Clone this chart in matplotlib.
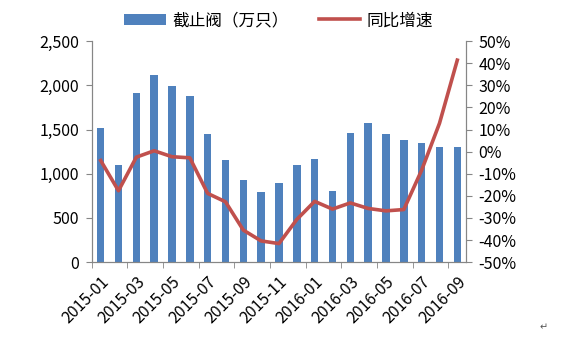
import matplotlib.pyplot as plt
from matplotlib.ticker import FuncFormatter, MultipleLocator, FixedLocator

plt.rcParams['font.family'] = ['Noto Sans CJK SC', 'DejaVu Sans']

months = ['2015-01', '2015-02', '2015-03', '2015-04', '2015-05', '2015-06', '2015-07',
          '2015-08', '2015-09', '2015-10', '2015-11', '2015-12', '2016-01', '2016-02',
          '2016-03', '2016-04', '2016-05', '2016-06', '2016-07', '2016-08', '2016-09']
output = [1515, 1095, 1915, 2120, 1995, 1875, 1455, 1160, 930, 790, 900,
          1095, 1170, 810, 1465, 1570, 1450, 1385, 1350, 1305, 1305]
growth = [-4.0, -17.7, -2.5, 0.4, -2.3, -2.8, -18.9, -22.7, -35.5, -40.4, -41.6,
          -30.7, -22.5, -26.0, -23.2, -25.7, -26.8, -26.2, -8.4, 12.8, 41.4]

bar_color = '#4F81BD'
line_color = '#C0504D'
axis_grey = '#868686'

fig = plt.figure(figsize=(5.77, 3.4), dpi=100)
ax = fig.add_axes([0.159, 0.229, 0.649, 0.650])
ax2 = ax.twinx()

x = list(range(len(months)))
bars = ax.bar(x, output, width=0.42, color=bar_color, label='截止阀（万只）', zorder=2)
line, = ax2.plot(x, growth, color=line_color, lw=2.6, label='同比增速', zorder=3)

ax.set_xlim(-0.5, len(months) - 0.5)
ax.set_ylim(0, 2500)
ax2.set_ylim(-50, 50)

ax.yaxis.set_major_locator(MultipleLocator(500))
ax.yaxis.set_major_formatter(FuncFormatter(lambda v, p: f'{int(v):,}'))
ax2.yaxis.set_major_locator(MultipleLocator(10))
ax2.yaxis.set_major_formatter(FuncFormatter(lambda v, p: f'{int(round(v))}%'))

# labels on every other month, tick marks on the boundaries between pairs
ax.xaxis.set_major_locator(FixedLocator(x[::2]))
ax.set_xticklabels(months[::2], rotation=45, ha='right', rotation_mode='anchor')
ax.xaxis.set_minor_locator(FixedLocator([i - 0.5 for i in range(0, len(months) + 1, 2)]))
ax.tick_params(axis='x', which='major', length=0, pad=8, labelsize=11.5)
ax.tick_params(axis='x', which='minor', length=4, color=axis_grey)
ax.tick_params(axis='y', length=4, color=axis_grey, labelsize=11.5, pad=5)
ax2.tick_params(axis='y', length=4, color=axis_grey, labelsize=11.5, pad=5)

for a in (ax, ax2):
    a.spines['top'].set_visible(False)
    for s in ('left', 'right', 'bottom'):
        a.spines[s].set_color(axis_grey)
ax2.set_zorder(ax.get_zorder() + 1)
ax2.patch.set_visible(False)

fig.legend([bars, line], ['截止阀（万只）', '同比增速'], loc='upper center',
           bbox_to_anchor=(0.483, 1.008), ncol=2, frameon=False, fontsize=12,
           handlelength=2.5, columnspacing=1.8, handletextpad=0.4)

# paragraph mark after the chart
fig.text(0.935, 0.03, '↵', fontsize=7, color='#555555', family=['DejaVu Sans'])

fig.savefig('out.png', dpi=100)
